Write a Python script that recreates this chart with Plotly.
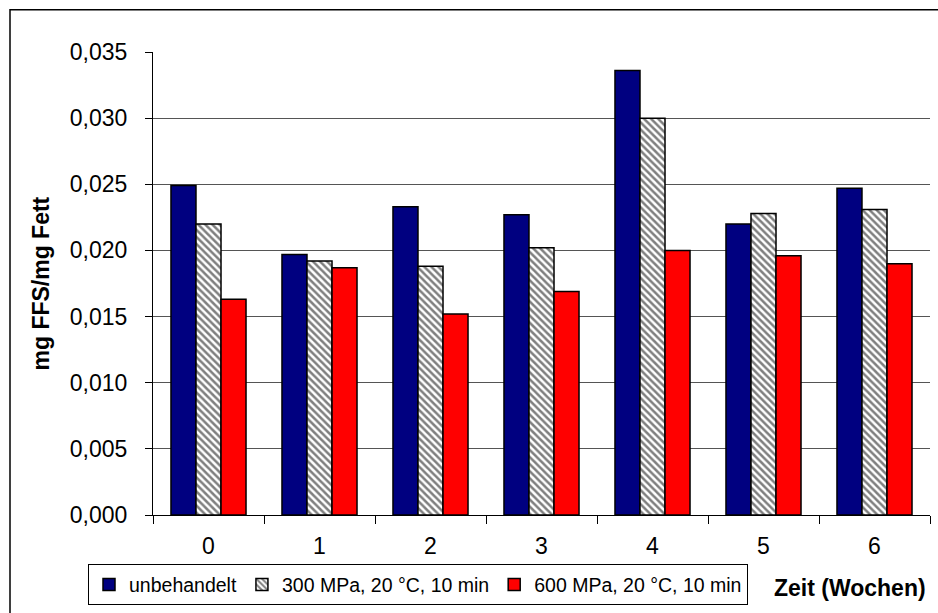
import plotly.graph_objects as go

# Lagerzeit in Wochen
wochen = ["0", "1", "2", "3", "4", "5", "6"]

# freie Fettsäuren (mg FFS / mg Fett)
unbehandelt = [0.0249, 0.0197, 0.0233, 0.0227, 0.0336, 0.0220, 0.0247]
hd_300 = [0.0220, 0.0192, 0.0188, 0.0202, 0.0300, 0.0228, 0.0231]
hd_600 = [0.0163, 0.0187, 0.0152, 0.0169, 0.0200, 0.0196, 0.0190]

serien = ["unbehandelt", "300 MPa, 20 °C, 10 min", "600 MPa, 20 °C, 10 min"]
y_ticks = [0, 0.005, 0.010, 0.015, 0.020, 0.025, 0.030, 0.035]

FONT = "Liberation Sans, Arial, sans-serif"
W, H = 938, 613
L, R, T, B = 153, 8, 52, 94
pw, ph = W - L - R, H - T - B


def px_x(x):
    return (x - L) / pw


def px_y(y):
    return (H - B - y) / ph


outline = dict(color="black", width=1.5)

fig = go.Figure()
fig.add_trace(go.Bar(
    x=wochen, y=unbehandelt, name=serien[0],
    marker=dict(color="#000080", line=outline),
))
fig.add_trace(go.Bar(
    x=wochen, y=hd_300, name=serien[1],
    marker=dict(color="white", line=outline,
                pattern=dict(shape="\\", fgcolor="black", bgcolor="white",
                             size=5, solidity=0.5, fillmode="overlay")),
))
fig.add_trace(go.Bar(
    x=wochen, y=hd_600, name=serien[2],
    marker=dict(color="#FF0000", line=outline),
))

fig.update_layout(
    width=W, height=H,
    margin=dict(l=L, r=R, t=T, b=B),
    paper_bgcolor="white", plot_bgcolor="white",
    separators=",.",
    barmode="group", bargap=0.324, bargroupgap=0,
    font=dict(family=FONT, size=20, color="black"),
    showlegend=True,
    legend=dict(
        orientation="h",
        x=px_x(88), xanchor="left",
        y=px_y(610), yanchor="bottom",
        bgcolor="white", bordercolor="black", borderwidth=1,
        font=dict(family=FONT, size=19.5, color="black"),
        itemwidth=30, tracegroupgap=0,
    ),
    xaxis=dict(
        type="category",
        showline=True, linecolor="black", linewidth=1,
        ticks="outside", tickson="boundaries", ticklen=8, tickcolor="black",
        tickfont=dict(family=FONT, size=23),
        ticklabelstandoff=10,
        showgrid=False,
    ),
    yaxis=dict(
        range=[0, 0.035], tickvals=y_ticks, tickformat=".3f",
        showline=True, linecolor="black", linewidth=1,
        ticks="outside", ticklen=7, tickcolor="black",
        tickfont=dict(family=FONT, size=23),
        ticklabelstandoff=13,
        showgrid=True, gridcolor="#555555", gridwidth=1,
        zeroline=False,
    ),
)

# Achsentitel
fig.add_annotation(
    text="<b>mg FFS/mg Fett</b>", textangle=-90,
    xref="paper", yref="paper", x=px_x(40), y=0.5,
    xanchor="center", yanchor="middle", showarrow=False,
    font=dict(family=FONT, size=23, color="black"),
)
fig.add_annotation(
    text="<b>Zeit (Wochen)</b>",
    xref="paper", yref="paper", x=px_x(850), y=px_y(593),
    xanchor="center", yanchor="middle", showarrow=False,
    font=dict(family=FONT, size=23, color="black"),
)

# Diagrammrahmen
fig.add_shape(
    type="rect", xref="paper", yref="paper",
    x0=px_x(10), x1=px_x(946), y0=px_y(9.5), y1=px_y(630),
    line=dict(color="black", width=1.5), layer="below",
)

fig.write_html("out.html")
